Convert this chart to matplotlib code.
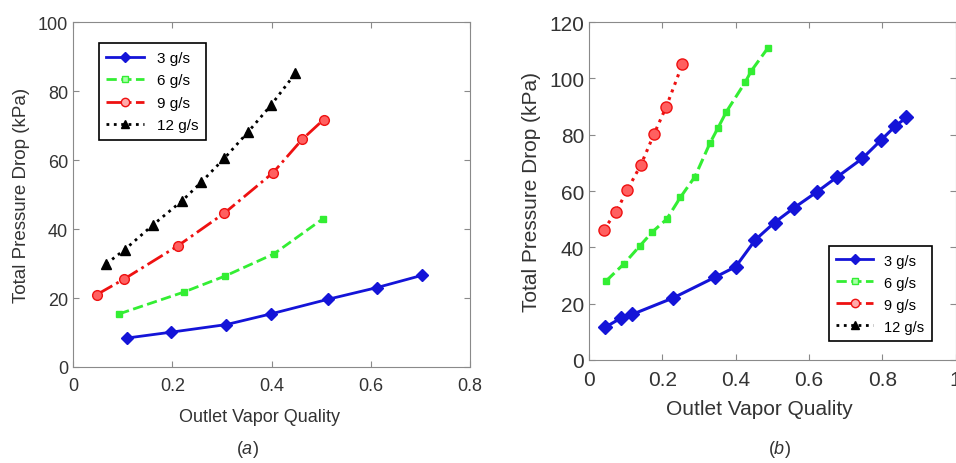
#!/usr/bin/env python

from matplotlib import pyplot as plt
from matplotlib.lines import Line2D

# Panel (a) data
a_x_3 = [0.109, 0.198, 0.309, 0.399, 0.513, 0.612, 0.704]
a_y_3 = [8.4, 10.1, 12.3, 15.4, 19.6, 23.0, 26.6]
a_x_6 = [0.093, 0.223, 0.307, 0.405, 0.503]
a_y_6 = [15.4, 21.7, 26.4, 32.8, 42.9]
a_x_9 = [0.048, 0.103, 0.211, 0.305, 0.403, 0.462, 0.505]
a_y_9 = [21.0, 25.5, 35.1, 44.6, 56.3, 66.0, 71.7]
a_x_12 = [0.067, 0.104, 0.162, 0.220, 0.258, 0.305, 0.352, 0.399, 0.448]
a_y_12 = [29.9, 34.0, 41.3, 48.2, 53.5, 60.5, 68.0, 75.9, 85.1]

# Panel (b) data
b_x_3 = [0.044, 0.086, 0.118, 0.229, 0.344, 0.400, 0.454, 0.506, 0.559,
         0.623, 0.677, 0.746, 0.796, 0.836, 0.866]
b_y_3 = [11.6, 14.8, 16.2, 22.0, 29.4, 33.1, 42.7, 48.8, 54.0,
         59.8, 65.0, 71.6, 78.0, 83.1, 86.1]
b_x_6 = [0.047, 0.095, 0.138, 0.173, 0.212, 0.249, 0.289, 0.330, 0.351,
         0.375, 0.426, 0.443, 0.488]
b_y_6 = [28.1, 34.1, 40.4, 45.5, 50.0, 57.7, 65.1, 77.0, 82.2,
         88.2, 98.6, 102.7, 110.8]
b_x_9 = [0.040, 0.073, 0.105, 0.142, 0.178, 0.211, 0.255]
b_y_9 = [46.2, 52.4, 60.5, 69.4, 80.4, 90.0, 105.1]

labels = ['3 g/s', '6 g/s', '9 g/s', '12 g/s']

BLUE = '#1414d8'
GREEN = '#33ee33'
RED = '#ee1111'
BLACK = '#000000'

plt.rcParams['font.family'] = ['Liberation Sans', 'DejaVu Sans']
plt.rcParams['mathtext.fontset'] = 'custom'
plt.rcParams['mathtext.it'] = 'Liberation Sans:italic'
plt.rcParams['mathtext.rm'] = 'Liberation Sans'


def style_axes(ax, size):
    for s in ax.spines.values():
        s.set_color('#8a8a8a')
        s.set_linewidth(0.8)
    ax.tick_params(direction='in', top=True, right=True, color='#8a8a8a',
                   labelsize=size, labelcolor='#333333', length=4)
    ax.tick_params(axis='x', pad=7)


def legend_handles():
    return [
        Line2D([], [], color=BLUE, lw=2, marker='D', ms=5, mfc=BLUE),
        Line2D([], [], color=GREEN, lw=2, ls='--', marker='s', ms=4, mfc='#aaffaa'),
        Line2D([], [], color=RED, lw=2, ls='-.', marker='o', ms=6, mfc='#ffaaaa'),
        Line2D([], [], color=BLACK, lw=2, ls=':', marker='^', ms=6, mfc=BLACK),
    ]


fig = plt.figure(figsize=(9.56, 4.64), dpi=100)

# Panel (a)
ax1 = fig.add_axes([0.0764, 0.2069, 0.4152, 0.7435])
ax1.plot(a_x_3, a_y_3, color=BLUE, lw=2, marker='D', ms=6)
ax1.plot(a_x_6, a_y_6, color=GREEN, lw=2, ls='--', marker='s', ms=5)
ax1.plot(a_x_9, a_y_9, color=RED, lw=2, ls='-.', marker='o', ms=7, mfc='#ff6060')
ax1.plot(a_x_12, a_y_12, color=BLACK, lw=2, ls=':', marker='^', ms=7)
ax1.set_xlim(0, 0.8)
ax1.set_ylim(0, 100)
ax1.set_xticks([0, 0.2, 0.4, 0.6, 0.8])
ax1.set_xticklabels(['0', '0.2', '0.4', '0.6', '0.8'])
ax1.set_yticks([0, 20, 40, 60, 80, 100])
style_axes(ax1, 13)
ax1.set_xlabel('Outlet Vapor Quality', fontsize=13, color='#333333')
ax1.xaxis.set_label_coords(0.47, -0.12)
ax1.set_ylabel('Total Pressure Drop (kPa)', fontsize=13.5, color='#333333', labelpad=6)
leg1 = ax1.legend(legend_handles(), labels, loc='upper left', fontsize=11,
                  bbox_to_anchor=(0.045, 0.96), fancybox=False, framealpha=1,
                  handlelength=2.5, borderpad=0.5, labelspacing=0.55)
leg1.get_frame().set_edgecolor('black')
leg1.get_frame().set_linewidth(1.2)

# Panel (b)
ax2 = fig.add_axes([0.6161, 0.222, 0.3835, 0.7284])
ax2.plot(b_x_3, b_y_3, color=BLUE, lw=2.2, marker='D', ms=7)
ax2.plot(b_x_6, b_y_6, color=GREEN, lw=2.2, ls='--', marker='s', ms=5)
ax2.plot(b_x_9, b_y_9, color=RED, lw=2.2, ls=':', marker='o', ms=8, mfc='#ff6060')
ax2.set_xlim(0, 1)
ax2.set_ylim(0, 120)
ax2.set_xticks([0, 0.2, 0.4, 0.6, 0.8, 1])
ax2.set_xticklabels(['0', '0.2', '0.4', '0.6', '0.8', '1'])
ax2.set_yticks([0, 20, 40, 60, 80, 100, 120])
style_axes(ax2, 15)
ax2.set_xlabel('Outlet Vapor Quality', fontsize=15, color='#333333')
ax2.xaxis.set_label_coords(0.464, -0.115)
ax2.set_ylabel('Total Pressure Drop (kPa)', fontsize=15, color='#333333', labelpad=6)
leg2 = ax2.legend(legend_handles(), labels, loc='lower right', fontsize=10.5,
                  bbox_to_anchor=(0.955, 0.035), fancybox=False, framealpha=1,
                  handlelength=2.5, borderpad=0.5, labelspacing=0.55)
leg2.get_frame().set_edgecolor('black')
leg2.get_frame().set_linewidth(1.2)

fig.text(0.259, 0.022, '($\\it{a}$)', ha='center', fontsize=13, color='#333333')
fig.text(0.815, 0.022, '($\\it{b}$)', ha='center', fontsize=13, color='#333333')

plt.savefig('out.png', dpi=100)
